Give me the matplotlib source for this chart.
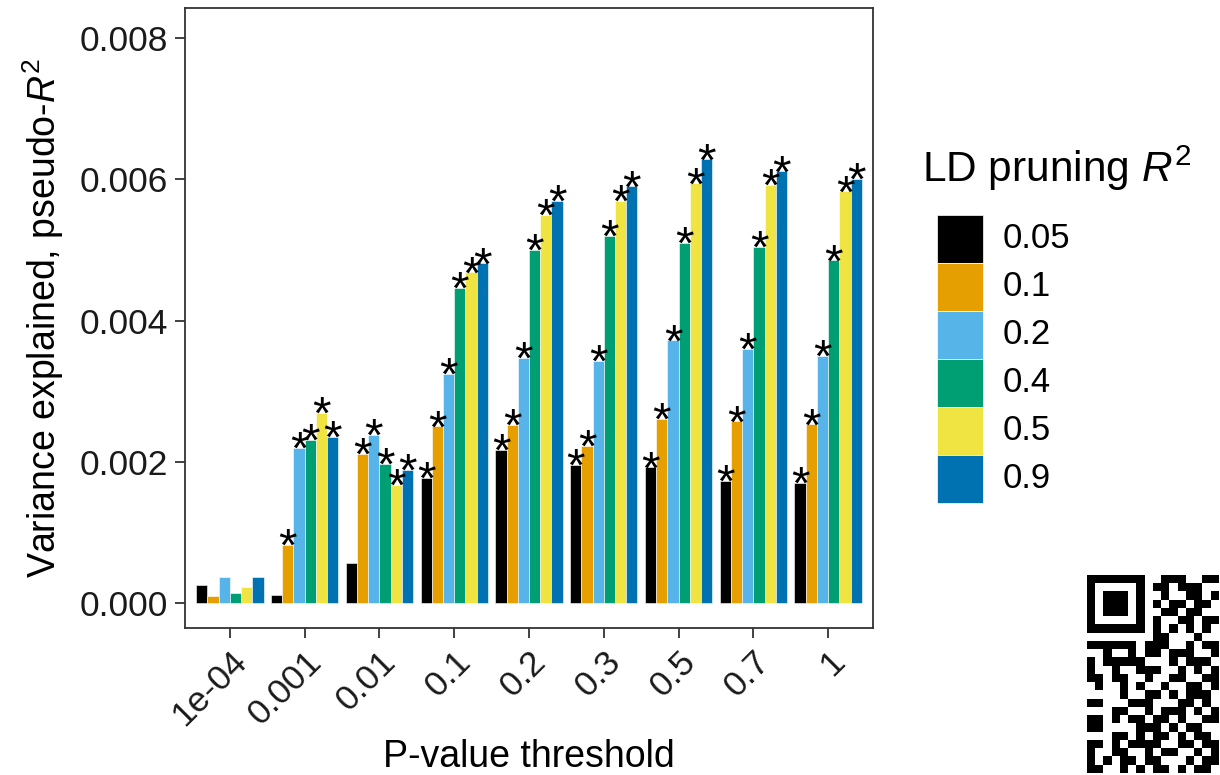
import numpy as np
import matplotlib
matplotlib.use("Agg")
import matplotlib.pyplot as plt
from matplotlib.patches import Rectangle

plt.rcParams['font.family'] = ['Liberation Sans', 'DejaVu Sans']
plt.rcParams['mathtext.fontset'] = 'custom'
plt.rcParams['mathtext.rm'] = 'Liberation Sans'
plt.rcParams['mathtext.it'] = 'Liberation Sans:italic'

# data
thresholds = ['1e-04', '0.001', '0.01', '0.1', '0.2', '0.3', '0.5', '0.7', '1']
ld_levels = ['0.05', '0.1', '0.2', '0.4', '0.5', '0.9']
colors = ['#000000', '#E69F00', '#56B4E9', '#009E73', '#F0E442', '#0072B2']

r2_005 = [0.00026, 0.00011, 0.00056, 0.00177, 0.00217, 0.00196, 0.00192, 0.00173, 0.00170]
r2_01 = [0.00010, 0.00082, 0.00211, 0.00250, 0.00252, 0.00223, 0.00261, 0.00257, 0.00253]
r2_02 = [0.00037, 0.00220, 0.00238, 0.00324, 0.00347, 0.00343, 0.00372, 0.00360, 0.00350]
r2_04 = [0.00014, 0.00231, 0.00197, 0.00446, 0.00500, 0.00520, 0.00510, 0.00504, 0.00485]
r2_05 = [0.00023, 0.00269, 0.00167, 0.00468, 0.00550, 0.00569, 0.00594, 0.00592, 0.00583]
r2_09 = [0.00037, 0.00235, 0.00188, 0.00481, 0.00569, 0.00590, 0.00628, 0.00611, 0.00601]
series = [r2_005, r2_01, r2_02, r2_04, r2_05, r2_09]

# significance flags (True -> asterisk)
sig_005 = [False, False, False, True, True, True, True, True, True]
sig_rest = [False, True, True, True, True, True, True, True, True]
sigs = [sig_005] + [sig_rest] * 5

fig = plt.figure(figsize=(12.2, 7.75), dpi=100)
ax = fig.add_axes([185 / 1220, 1 - 628 / 775, 688 / 1220, 620 / 775])

x = np.arange(len(thresholds))
n = len(series)
width = 0.9 / n
for k, (vals, sig) in enumerate(zip(series, sigs)):
    pos = x - 0.45 + width * (k + 0.5)
    ax.bar(pos, vals, width, color=colors[k], edgecolor='white', linewidth=0.4)
    for p, v, s in zip(pos, vals, sig):
        if s:
            ax.annotate('*', (p, v), xytext=(0, -11.5), textcoords='offset points',
                        ha='center', va='baseline', fontsize=34, color='black')

ax.set_xlim(-0.6, 8.6)
ax.set_ylim(-0.000354, 0.008425)
ax.set_yticks([0, 0.002, 0.004, 0.006, 0.008])
ax.set_yticklabels(['0.000', '0.002', '0.004', '0.006', '0.008'])
ax.set_xticks(x)
ax.set_xticklabels(thresholds, rotation=45, ha='right', rotation_mode='anchor')
ax.tick_params(axis='both', labelsize=25.5, length=7, width=1.3, color='#333333',
               labelcolor='#1a1a1a', pad=5)
for sp in ax.spines.values():
    sp.set_color('#333333')
    sp.set_linewidth(1.3)

ax.set_xlabel('P-value threshold', fontsize=27, labelpad=5)
ax.set_ylabel('Variance explained, pseudo-$\\mathit{R}^2$', fontsize=27, labelpad=10)

# legend drawn by hand in figure pixels
W, H = 1220, 775
fig.text(922 / W, 1 - 168 / H, 'LD pruning $\\mathit{R}^2$', fontsize=30.5, va='center', ha='left')
key_top = 215
key_h = 48
for k, lab in enumerate(ld_levels):
    y0 = key_top + k * key_h
    fig.add_artist(Rectangle((937 / W, 1 - (y0 + key_h) / H), 46 / W, key_h / H,
                             transform=fig.transFigure, facecolor=colors[k],
                             edgecolor='white', linewidth=0.5))
    fig.text(1003 / W, 1 - (y0 + key_h / 2) / H, lab, fontsize=25, va='center', ha='left')

# partial QR code in the lower right corner
qr = [
    "1111111001110011",
    "1000001011011100",
    "1011101001001101",
    "1011101010110110",
    "1011101001101100",
    "1000001010011011",
    "1111111010101010",
    "0000000011000100",
    "1111110111001011",
    "0010010110111001",
    "1011111000101110",
    "1001001110010101",
    "1101100100110011",
    "0100101001001101",
    "0000100110101110",
    "1100011100011010",
    "0001100101110101",
    "1101011011010011",
    "1100001110101100",
    "0001101011010110",
    "1101011110011011",
    "1001100101100101",
    "1010110110001011",
    "1100101011010110",
]
qr_arr = np.array([[int(c) for c in row] for row in qr])
mod = 8.23
qax = fig.add_axes([1087 / W, 1 - (575 + 24 * mod) / H, 16 * mod / W, 24 * mod / H])
qax.imshow(qr_arr, cmap='gray_r', interpolation='nearest', aspect='auto')
qax.axis('off')

fig.savefig('out.png', dpi=100)
